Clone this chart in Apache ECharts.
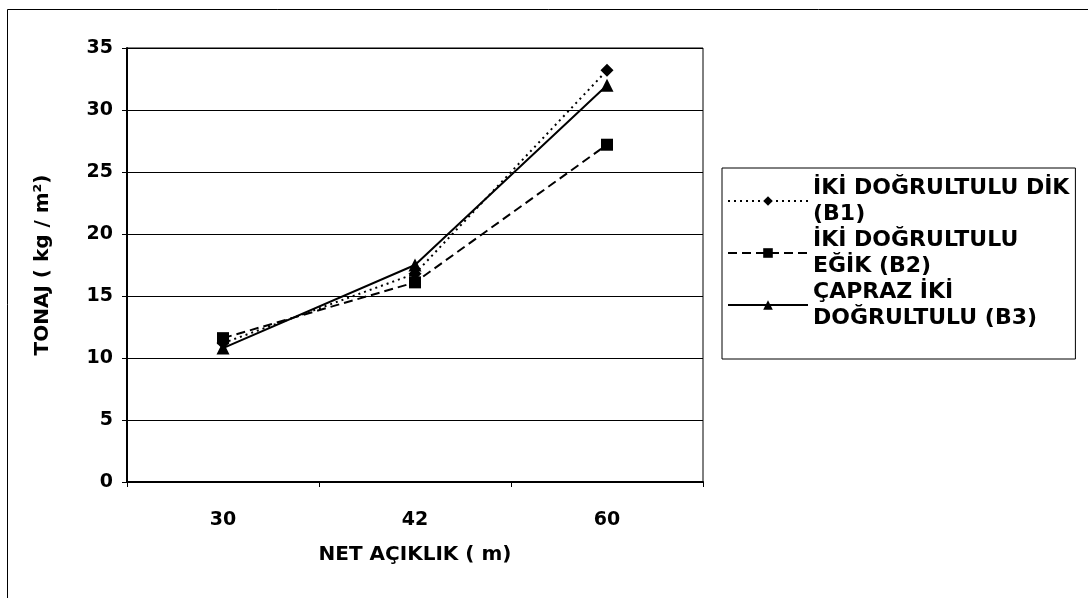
<!DOCTYPE html>
<html>
<head>
<meta charset="utf-8">
<script src="https://cdn.jsdelivr.net/npm/echarts@6/dist/echarts.min.js"></script>
<style>
html,body{margin:0;padding:0;background:#fff;}
#chart{width:1088px;height:598px;}
</style>
</head>
<body>
<div id="chart"></div>
<script>
const categories = ['30', '42', '60'];
const seriesNames = ['İKİ DOĞRULTULU DİK (B1)', 'İKİ DOĞRULTULU EĞİK (B2)', 'ÇAPRAZ İKİ DOĞRULTULU (B3)'];
const legendLabels = ['İKİ DOĞRULTULU DİK\n(B1)', 'İKİ DOĞRULTULU\nEĞİK (B2)', 'ÇAPRAZ İKİ\nDOĞRULTULU (B3)'];
const b1 = [11.2, 16.8, 33.2];
const b2 = [11.6, 16.1, 27.2];
const b3 = [10.8, 17.5, 32.0];
const yTicks = { min: 0, max: 35, interval: 5 };

const FONT = '"DejaVu Sans", "Liberation Sans", Arial, sans-serif';
const chart = echarts.init(document.getElementById('chart'), null, { renderer: 'canvas' });

const option = {
  backgroundColor: '#fff',
  animation: false,
  graphic: [{
    type: 'rect', silent: true, z: 0,
    shape: { x: 7.5, y: 9.5, width: 1200, height: 700 },
    style: { fill: 'none', stroke: '#000', lineWidth: 1 }
  }],
  grid: { left: 127, right: 385, top: 48, bottom: 116, show: true, borderColor: '#000', borderWidth: 1, backgroundColor: 'transparent' },
  legend: {
    orient: 'vertical',
    left: 722, top: 168,
    padding: [9, 6, 30, 5],
    borderColor: '#000', borderWidth: 1,
    itemWidth: 80, itemHeight: 12, itemGap: 4,
    data: seriesNames,
    formatter: function (name) { return legendLabels[seriesNames.indexOf(name)]; },
    textStyle: { fontFamily: FONT, fontSize: 22, fontWeight: 'bold', color: '#000', lineHeight: 26, verticalAlign: 'top', padding: [-7, 0, 0, 0] }
  },
  xAxis: {
    type: 'category',
    data: categories,
    boundaryGap: true,
    name: 'NET AÇIKLIK ( m)',
    nameLocation: 'middle',
    nameGap: 63,
    nameTextStyle: { fontFamily: FONT, fontSize: 20, fontWeight: 'bold', color: '#000' },
    axisLine: { lineStyle: { color: '#000', width: 2 } },
    axisTick: { show: true, alignWithLabel: false, length: 5, lineStyle: { color: '#000' } },
    axisLabel: { fontFamily: FONT, fontSize: 19, fontWeight: 'bold', color: '#000', margin: 29 },
    splitLine: { show: false }
  },
  yAxis: {
    type: 'value',
    min: yTicks.min, max: yTicks.max, interval: yTicks.interval,
    name: 'TONAJ ( kg / m²)',
    nameLocation: 'middle',
    nameGap: 74,
    nameRotate: 90,
    nameTextStyle: { fontFamily: FONT, fontSize: 20, fontWeight: 'bold', color: '#000' },
    axisLine: { show: true, lineStyle: { color: '#000', width: 2 } },
    axisTick: { show: true, length: 5, lineStyle: { color: '#000' } },
    axisLabel: { fontFamily: FONT, fontSize: 19, fontWeight: 'bold', color: '#000', margin: 14 },
    splitLine: { show: true, lineStyle: { color: '#000', width: 1 } }
  },
  series: [
    {
      name: seriesNames[0], type: 'line', data: b1,
      symbol: 'diamond', symbolSize: 13,
      lineStyle: { color: '#000', width: 2, type: [2, 4] },
      itemStyle: { color: '#000' }, z: 3
    },
    {
      name: seriesNames[1], type: 'line', data: b2,
      symbol: 'rect', symbolSize: 12,
      lineStyle: { color: '#000', width: 2, type: [9, 5] },
      itemStyle: { color: '#000' }, z: 4
    },
    {
      name: seriesNames[2], type: 'line', data: b3,
      symbol: 'triangle', symbolSize: 13,
      lineStyle: { color: '#000', width: 2, type: 'solid' },
      itemStyle: { color: '#000' }, z: 5
    }
  ]
};
chart.setOption(option);
</script>
</body>
</html>
